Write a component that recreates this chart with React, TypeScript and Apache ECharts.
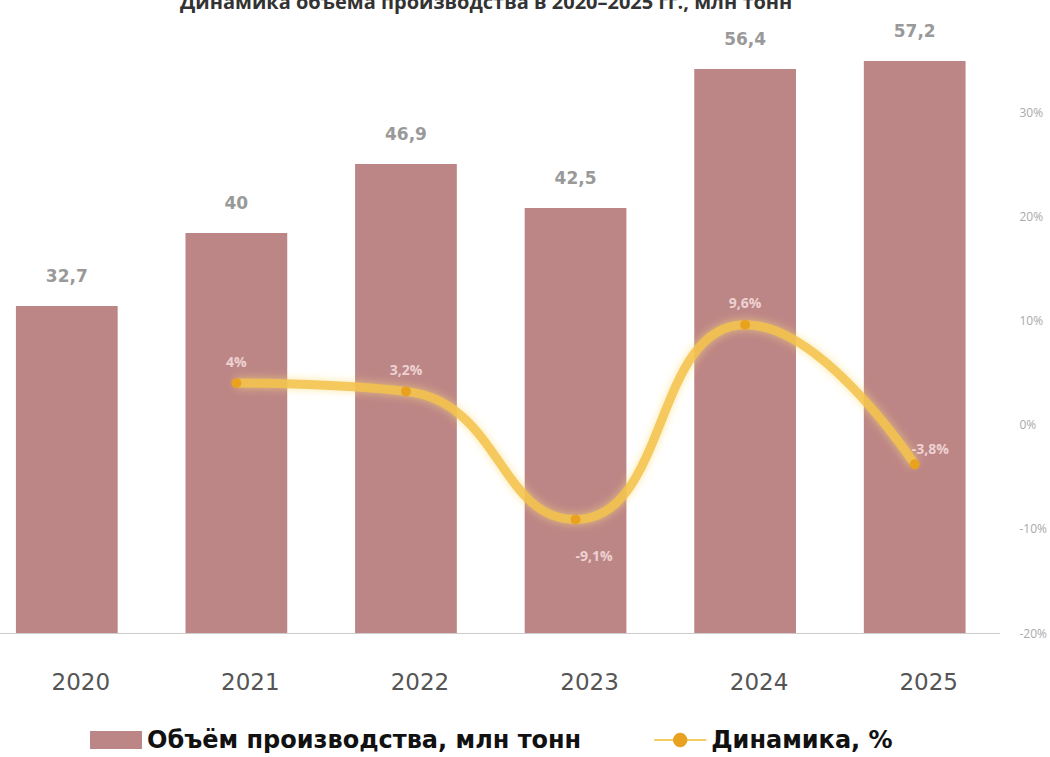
import React, { useEffect, useRef } from "react";
import * as echarts from "echarts";

const years = ["2020", "2021", "2022", "2023", "2024", "2025"];
const volume = [32.7, 40.0, 46.9, 42.5, 56.4, 57.2];
const dynamics: (number | string)[] = ["-", 4.0, 3.2, -9.1, 9.6, -3.8];
const pctTicks = [-20, -10, 0, 10, 20, 30];
const titleText = "Динамика объёма производства в 2020–2025 гг., млн тонн";

export default function App() {
  const ref = useRef<HTMLDivElement>(null);
  useEffect(() => {
    if (!ref.current) return;
    const chart = echarts.init(ref.current, null, { renderer: "svg" });
    chart.setOption({
      animation: false,
      backgroundColor: "#ffffff",
      title: {
        text: titleText,
        left: 193,
        top: -14,
        textStyle: { fontFamily: "Open Sans", fontSize: 20, fontWeight: "bold", color: "#333" },
      },
      legend: {
        bottom: 0,
        left: 103,
        itemGap: 72,
        itemWidth: 52,
        itemHeight: 18,
        textStyle: { fontFamily: "DejaVu Sans", fontSize: 24, fontWeight: "bold", color: "#111" },
        data: [
          { name: "Объём производства, млн тонн", icon: "rect" },
          { name: "Динамика, %" },
        ],
      },
      grid: { left: 0, right: 48, top: 29, bottom: 124, containLabel: false },
      xAxis: {
        type: "category",
        data: years,
        axisTick: { show: false },
        axisLine: { show: true, lineStyle: { color: "#ccc" } },
        axisLabel: {
          margin: 37,
          padding: [0, 0, 0, 28],
          fontFamily: "DejaVu Sans",
          fontSize: 23,
          color: "#555",
        },
      },
      yAxis: [
        {
          type: "value",
          min: 0,
          max: 60.4,
          show: false,
          splitLine: { show: false },
        },
        {
          type: "value",
          position: "right",
          min: pctTicks[0],
          max: 38,
          interval: 10,
          splitLine: { show: false },
          axisLine: { show: false },
          axisTick: { show: false },
          axisLabel: {
            showMaxLabel: false,
            margin: 20,
            fontFamily: "Open Sans",
            fontSize: 12,
            color: "#aaa",
            formatter: (v: number) => (pctTicks.includes(v) ? v + "%" : ""),
          },
        },
      ],
      series: [
        {
          name: "Объём производства, млн тонн",
          type: "bar",
          data: volume,
          yAxisIndex: 0,
          barCategoryGap: "40%",
          clip: false,
          itemStyle: { color: "#BD8686" },
          label: {
            show: true,
            position: "top",
            distance: 22,
            fontFamily: "DejaVu Sans",
            fontSize: 17,
            fontWeight: "bold",
            color: "#999",
            formatter: (p: any) => String(p.value).replace(".", ","),
          },
        },
        {
          name: "Динамика, %",
          type: "line",
          data: dynamics,
          yAxisIndex: 1,
          smooth: true,
          symbol: "circle",
          symbolSize: 10,
          itemStyle: { color: "#E9A21F" },
          lineStyle: {
            color: "#F3C24A",
            width: 9,
            opacity: 0.85,
            shadowColor: "rgba(250,220,120,0.8)",
            shadowBlur: 8,
          },
          label: {
            show: true,
            position: "top",
            distance: 10,
            fontFamily: "Open Sans",
            fontSize: 14,
            fontWeight: "bold",
            color: "rgba(255,235,235,0.75)",
            formatter: (p: any) => String(p.value).replace(".", ",") + "%",
          },
          labelLayout: (params: any) => {
            if (params.dataIndex === 3) {
              return { y: params.rect.y + 34 };
            }
            if (params.dataIndex === 5) {
              return { x: params.rect.x + 2, y: params.rect.y - 18 };
            }
            return {};
          },
        },
      ],
    });
    return () => chart.dispose();
  }, []);
  return (
    <div
      ref={ref}
      style={{ position: "absolute", left: -18, top: 0, width: 1068, height: 757 }}
    />
  );
}
